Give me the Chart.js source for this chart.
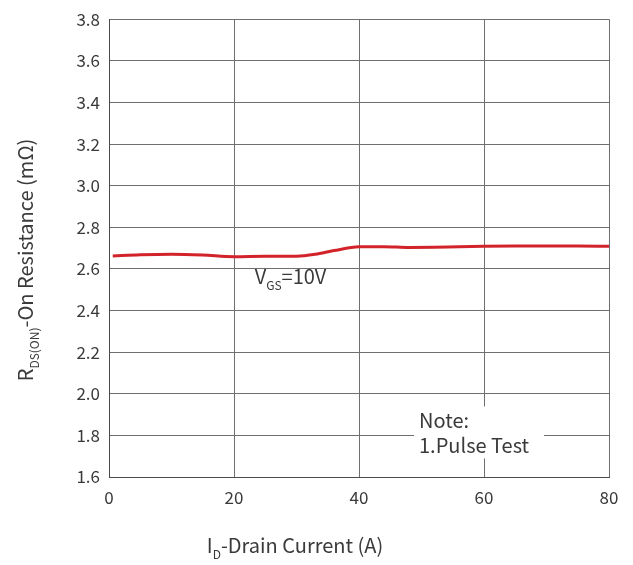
<!DOCTYPE html>
<html>
<head>
<meta charset="utf-8">
<script src="https://cdn.jsdelivr.net/npm/chart.js@4"></script>
<style>
  html, body { margin: 0; padding: 0; background: #fff; }
  #wrap { width: 633px; height: 565px; position: relative; }
</style>
</head>
<body>
<div id="wrap"><canvas id="rdsChart"></canvas></div>
<script>
// drain current (A) and on resistance (mOhm)
const drainCurrent = [0.6, 5, 10, 15, 20, 25, 30, 33, 36, 40, 44, 48, 52, 56, 60, 65, 70, 75, 80];
const onResistance = [2.662, 2.668, 2.671, 2.667, 2.659, 2.661, 2.661, 2.670, 2.688, 2.706, 2.707, 2.703, 2.704, 2.707, 2.709, 2.710, 2.710, 2.710, 2.709];
const xTicks = [0, 20, 40, 60, 80];
const yTicks = [1.6, 1.8, 2.0, 2.2, 2.4, 2.6, 2.8, 3.0, 3.2, 3.4, 3.6, 3.8];

const FONT = '"Noto Sans CJK SC", "Noto Sans", sans-serif';
const TEXT = '#3a3a3a';
const W = 400;

// draws text with one subscript part: [main, sub, rest]
function drawSubText(ctx, parts, x, y, size) {
    const small = Math.round(size * 0.62);
    ctx.textBaseline = 'alphabetic';
    ctx.textAlign = 'left';
    ctx.font = W + ' ' + size + 'px ' + FONT;
    const w1 = ctx.measureText(parts[0]).width;
    ctx.fillText(parts[0], x, y);
    ctx.font = W + ' ' + small + 'px ' + FONT;
    const w2 = ctx.measureText(parts[1]).width;
    ctx.fillText(parts[1], x + w1, y + size * 0.3);
    ctx.font = W + ' ' + size + 'px ' + FONT;
    ctx.fillText(parts[2], x + w1 + w2, y);
}

function measureSub(ctx, parts, size) {
    ctx.font = W + ' ' + size + 'px ' + FONT;
    let w = ctx.measureText(parts[0]).width + ctx.measureText(parts[2]).width;
    ctx.font = W + ' ' + Math.round(size * 0.62) + 'px ' + FONT;
    return w + ctx.measureText(parts[1]).width;
}

const annotations = {
    id: 'annotations',
    afterDraw(chart) {
        const ctx = chart.ctx;
        const xs = chart.scales.x, ys = chart.scales.y;
        ctx.save();
        ctx.fillStyle = TEXT;

        // VGS label
        drawSubText(ctx, ['V', 'GS', '=10V'], xs.getPixelForValue(23.3), ys.getPixelForValue(2.527), 20);

        // note box over the grid
        const bx = xs.getPixelForValue(48.8), by = ys.getPixelForValue(1.939);
        ctx.fillStyle = '#fff';
        ctx.fillRect(bx, by, 130, 52);
        ctx.fillStyle = TEXT;
        ctx.font = W + ' 20px ' + FONT;
        ctx.textAlign = 'left';
        ctx.textBaseline = 'alphabetic';
        ctx.fillText('Note:', bx + 5, by + 22);
        ctx.fillText('1.Pulse Test', bx + 5, by + 47);

        // x title
        const xParts = ['I', 'D', '-Drain Current (A)'];
        const xw = measureSub(ctx, xParts, 20);
        drawSubText(ctx, xParts, 295 - xw / 2, 553, 20);

        // y title, rotated
        const yParts = ['R', 'DS(ON)', '-On Resistance (mΩ)'];
        const yw = measureSub(ctx, yParts, 20);
        ctx.translate(33, 260);
        ctx.rotate(-Math.PI / 2);
        drawSubText(ctx, yParts, -yw / 2, 0, 20);
        ctx.restore();
    }
};

new Chart(document.getElementById('rdsChart'), {
    type: 'line',
    data: {
        datasets: [{
            data: drainCurrent.map((x, i) => ({ x: x, y: onResistance[i] })),
            borderColor: '#d2232a',
            borderWidth: 3,
            pointRadius: 0,
            tension: 0.4,
            cubicInterpolationMode: 'monotone',
            fill: false
        }]
    },
    options: {
        responsive: true,
        maintainAspectRatio: false,
        animation: false,
        events: [],
        layout: { padding: { top: 15, right: 24, left: 0, bottom: 0 } },
        plugins: { legend: { display: false }, tooltip: { enabled: false } },
        scales: {
            x: {
                type: 'linear',
                min: 0,
                max: 80,
                afterBuildTicks: (s) => { s.ticks = xTicks.map(v => ({ value: v })); },
                afterFit: (s) => { s.height = 88; },
                grid: { color: '#6f6f6f', lineWidth: 1, drawTicks: false },
                border: { color: '#4a4a4a', width: 1 },
                ticks: { padding: 10, color: TEXT, font: { family: FONT, size: 17, weight: W } }
            },
            y: {
                min: 1.6,
                max: 3.8,
                afterBuildTicks: (s) => { s.ticks = yTicks.map(v => ({ value: v })); },
                afterFit: (s) => { s.width = 109; },
                grid: { color: '#6f6f6f', lineWidth: 1, drawTicks: false },
                border: { color: '#4a4a4a', width: 1 },
                ticks: {
                    padding: 9,
                    color: TEXT,
                    font: { family: FONT, size: 17, weight: W },
                    callback: (v) => Number(v).toFixed(1)
                }
            }
        }
    },
    plugins: [annotations]
});
</script>
</body>
</html>
